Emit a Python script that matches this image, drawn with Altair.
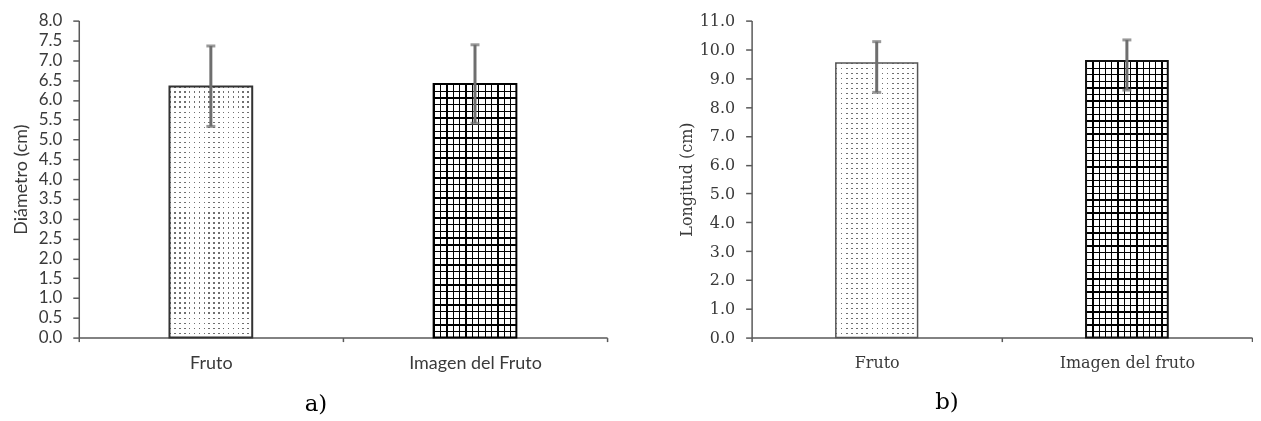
import altair as alt
import pandas as pd

# ---- data ----
cats_a = ["Fruto", "Imagen del Fruto"]
mean_a = [6.34, 6.40]
low_a = [5.33, 5.41]
high_a = [7.36, 7.39]

cats_b = ["Fruto", "Imagen del fruto"]
mean_b = [9.53, 9.60]
low_b = [8.51, 8.59]
high_b = [10.27, 10.33]

AXIS_COL = "#595959"
TEXT_COL = "#3a3a3a"
ERR_COL = "#6e6e6e"


def stripes(n, frac, on, off, along_y):
    stops = []
    for i in range(n):
        a = round(i / n, 5)
        b = round((i + frac) / n, 5)
        c = round((i + 1) / n, 5)
        stops += [
            alt.GradientStop(color=on, offset=a),
            alt.GradientStop(color=on, offset=b),
            alt.GradientStop(color=off, offset=b),
            alt.GradientStop(color=off, offset=c),
        ]
    return alt.LinearGradient(
        gradient="linear", stops=stops,
        x1=0, y1=0, x2=0 if along_y else 1, y2=1 if along_y else 0,
    )


def panel(cats, mean, low, high, ymax, ystep, font, lsize, xsize, ytitle, tsize,
          width, height, bar_w, pats, label, title_dx, strokes, tpad):
    df = pd.DataFrame({"cat": cats, "mean": mean, "low": low, "high": high})
    x = alt.X("cat:N", sort=cats, title=None,
              scale=alt.Scale(paddingInner=0, paddingOuter=0),
              axis=alt.Axis(labelAngle=0, tickBand="extent", labelFont=font,
                            labelFontSize=xsize, labelColor=TEXT_COL,
                            labelPadding=13, tickSize=4, tickColor=AXIS_COL,
                            domainColor=AXIS_COL, domainWidth=1.5, tickWidth=1.5))
    nt = int(round(ymax / ystep))
    yaxis = alt.Axis(values=[round(i * ystep, 2) for i in range(nt + 1)],
                     format=".1f", grid=False, labelFont=font,
                     labelFontSize=lsize, labelColor=TEXT_COL,
                     labelOverlap=False, labelBound=False,
                     labelPadding=11, tickSize=6, tickColor=AXIS_COL,
                     tickWidth=1.5, domainColor=AXIS_COL, domainWidth=1.5,
                     titleFont=font, titleFontSize=tsize,
                     titleFontWeight="normal", titleColor=TEXT_COL,
                     titlePadding=tpad)
    yscale = alt.Scale(domain=[0, ymax], nice=False)

    def Y(field):
        return alt.Y(field, title=ytitle, scale=yscale, axis=yaxis)

    y = Y("mean:Q")
    base = alt.Chart(df)
    layers = []
    for i, c in enumerate(cats):
        kind, nh, nv = pats[i]
        sub = base.transform_filter(alt.datum.cat == c)
        if kind == "dots":
            layers.append(sub.mark_bar(width=bar_w, fill=stripes(nh, 0.3, "#707070", "#ffffff", True)).encode(x=x, y=y))
            layers.append(sub.mark_bar(width=bar_w, blend="lighten", fill=stripes(nv, 0.3, "#000000", "#ffffff", False)).encode(x=x, y=y))
        else:
            layers.append(sub.mark_bar(width=bar_w, fill=stripes(nh, 0.2, "#000000", "#ffffff", True)).encode(x=x, y=y))
            layers.append(sub.mark_bar(width=bar_w, blend="multiply", fill=stripes(nv, 0.2, "#000000", "#ffffff", False)).encode(x=x, y=y))
        layers.append(sub.mark_bar(width=bar_w, fillOpacity=0, stroke=strokes[i][0], strokeWidth=strokes[i][1]).encode(x=x, y=y))
    layers.append(base.mark_rule(color=ERR_COL, strokeWidth=3).encode(x=x, y=Y("low:Q"), y2="high:Q"))
    layers.append(base.mark_tick(color=ERR_COL, size=9, thickness=3).encode(x=x, y=Y("low:Q")))
    layers.append(base.mark_tick(color=ERR_COL, size=9, thickness=3).encode(x=x, y=Y("high:Q")))
    return alt.layer(*layers).properties(
        width=width, height=height,
        title=alt.TitleParams(label, orient="bottom", anchor="middle", dx=title_dx,
                              offset=21, font="DejaVu Serif", fontSize=23,
                              fontWeight="normal", color="#000000"),
    )


pa = panel(cats_a, mean_a, low_a, high_a, 8.0, 0.5, "Lato", 17, 18, "Diámetro (cm)", 18,
           530, 318, 83, [("dots", 50, 17), ("grid", 38, 13)], "a)", -27,
           [("#333333", 2), ("#000000", 2)], 8)
pb = panel(cats_b, mean_b, low_b, high_b, 11.0, 1.0, "DejaVu Serif", 16, 16, "Longitud (cm)", 16,
           502, 318, 82, [("dots", 55, 16), ("grid", 42, 13)], "b)", -55,
           [("#555555", 1.5), ("#111111", 2)], 5)

chart = alt.hconcat(pa, pb, spacing=70).properties(
    padding={"left": 4, "top": 3, "right": 0, "bottom": 0},
    background="white",
).configure_view(strokeWidth=0)

chart.save("out.html", embed_options={"renderer": "svg", "actions": False})
